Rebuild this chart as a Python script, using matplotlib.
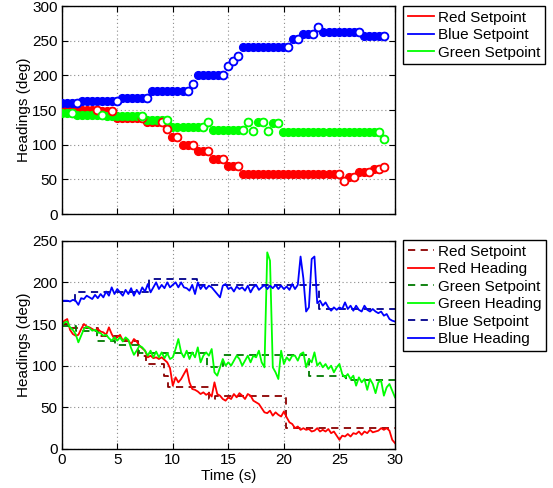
import matplotlib
matplotlib.use("Agg")
import matplotlib.pyplot as plt
import numpy as np
from matplotlib.lines import Line2D

plt.rcParams["font.family"] = ["Liberation Sans", "DejaVu Sans"]
plt.rcParams["font.size"] = 11

# ---- 上图：各颜色的设定值（每段的取值与采样点数） ----
sp_t = np.linspace(0, 29, 65)

red_levels = [150, 148, 139, 133, 122, 111, 99, 91, 79, 69, 58, 47, 54, 61, 65, 68]
red_counts = [8, 3, 6, 4, 1, 2, 3, 3, 3, 3, 20, 1, 2, 3, 2, 1]

blue_levels = [160, 163, 168, 177, 188, 200, 213, 221, 228, 241, 252, 260, 269, 262, 257]
blue_counts = [4, 8, 6, 8, 1, 6, 1, 1, 1, 10, 2, 3, 1, 8, 5]

green_levels = [145, 143, 141, 135, 126, 133, 121, 133, 120, 133, 119, 131, 118, 108]
green_counts = [3, 6, 8, 5, 7, 1, 7, 1, 1, 2, 1, 2, 20, 1]

# ---- 下图：航向与设定值 ----
head_t = np.linspace(0, 30, 121)

red_heading = [
    150, 154, 156, 143, 138, 136, 137, 144, 150, 147, 146, 144, 142, 144, 141, 140,
    137, 146, 138, 132, 134, 137, 130, 132, 130, 126, 132, 129, 124, 121, 118, 110,
    112, 109, 110, 108, 110, 107, 104, 97, 76, 86, 80, 84, 90, 96, 80, 72,
    71, 69, 66, 68, 65, 67, 63, 80, 66, 64, 60, 58, 62, 60, 66, 62,
    67, 64, 60, 66, 64, 58, 56, 54, 49, 44, 43, 46, 40, 44, 41, 39,
    45, 38, 32, 30, 25, 27, 23, 25, 23, 24, 21, 22, 25, 21, 23, 21,
    24, 19, 21, 16, 11, 16, 15, 18, 15, 19, 18, 21, 17, 21, 19, 23,
    20, 21, 22, 25, 23, 25, 22, 11, 7,
]

green_heading = [
    148, 152, 153, 146, 143, 138, 128, 136, 144, 147, 145, 142, 143, 140, 139, 136,
    137, 133, 130, 134, 130, 134, 129, 134, 131, 121, 113, 118, 124, 122, 118, 112,
    118, 110, 117, 110, 116, 109, 115, 108, 110, 120, 132, 116, 110, 118, 108, 116,
    110, 122, 104, 112, 116, 112, 120, 92, 88, 98, 108, 100, 104, 100, 106, 112,
    108, 100, 106, 112, 104, 112, 110, 118, 104, 98, 236, 226, 98, 92, 84, 118,
    102, 110, 106, 112, 112, 106, 114, 116, 98, 108, 104, 116, 100, 104, 98, 102,
    96, 100, 92, 98, 102, 90, 86, 90, 84, 88, 76, 86, 80, 84, 71, 84,
    78, 67, 80, 82, 64, 74, 78, 70, 62,
]

blue_heading = [
    178, 178, 178, 177, 179, 178, 173, 181, 180, 184, 182, 180, 185, 181, 186, 182,
    189, 184, 194, 186, 192, 188, 184, 191, 186, 193, 184, 191, 186, 194, 189, 198,
    188, 194, 200, 192, 197, 193, 200, 194, 197, 200, 194, 200, 194, 193, 190, 197,
    186, 200, 192, 197, 192, 196, 194, 190, 186, 182, 196, 198, 192, 194, 189, 195,
    192, 194, 190, 196, 188, 194, 197, 191, 194, 197, 192, 196, 193, 197, 192, 196,
    192, 195, 191, 198, 192, 197, 231, 205, 165, 170, 228, 231, 175, 178, 172, 176,
    170, 166, 170, 167, 170, 168, 176, 168, 172, 166, 172, 167, 165, 172, 167, 165,
    168, 165, 163, 165, 160, 162, 156, 154, 153,
]

red_sp_t = [0, 0.6, 3.3, 5.5, 6.9, 7.6, 9.2, 9.6, 13.3, 13.8, 20.2, 30]
red_sp_v = [150, 145, 136, 130, 112, 102, 88, 75, 60, 64, 25, 25]

green_sp_t = [0, 1.3, 3.2, 4.8, 7.0, 13.1, 14.5, 22.3, 25.6, 30]
green_sp_v = [148, 142, 130, 125, 115, 98, 113, 88, 83, 83]

blue_sp_t = [0, 1.2, 7.9, 12.2, 23.2, 30]
blue_sp_v = [178, 188, 204, 197, 168, 168]

W, H = 553, 488
fig = plt.figure(figsize=(W / 100, H / 100), dpi=100)
ax1 = fig.add_axes([61.7 / W, 1 - 214 / H, 333.3 / W, 208 / H])
ax2 = fig.add_axes([61.7 / W, 1 - 449 / H, 333.3 / W, 208.3 / H])


def style_axes(ax):
    ax.grid(True, color="#8c8c8c", linestyle=(0, (1, 2.5)), linewidth=0.8)
    ax.tick_params(direction="in", top=True, right=True, length=4, width=0.8, pad=3)
    for s in ax.spines.values():
        s.set_linewidth(1.0)
    ax.set_axisbelow(True)


# 上图：实心点为设定值，空心点为每段的最后一个点
for levels, counts, col in [
    (red_levels, red_counts, "red"),
    (blue_levels, blue_counts, "blue"),
    (green_levels, green_counts, "lime"),
]:
    vals = np.repeat(levels, counts)
    ax1.plot(sp_t, vals, "o", color=col, ms=5.6, mew=1.0, mfc=col, mec=col, zorder=3)
    ends = np.cumsum(counts) - 1
    ax1.plot(sp_t[ends], vals[ends], "o", ms=5.6, mew=1.3, mfc="white", mec=col, zorder=4)

ax1.set_xlim(0, 30)
ax1.set_ylim(0, 300)
ax1.set_xticks(np.arange(0, 31, 5))
ax1.set_xticklabels([])
ax1.set_yticks(np.arange(0, 301, 50))
ax1.set_ylabel("Headings (deg)", labelpad=1)
style_axes(ax1)

handles = [
    Line2D([], [], color="red", lw=1.3),
    Line2D([], [], color="blue", lw=1.3),
    Line2D([], [], color="lime", lw=1.3),
]
leg_kw = dict(loc="upper left", bbox_transform=fig.transFigure, borderaxespad=0,
              fancybox=False, edgecolor="black", framealpha=1,
              handlelength=1.75, handletextpad=0.25, borderpad=0.3,
              labelspacing=0.23)
leg1 = ax1.legend(handles, ["Red Setpoint", "Blue Setpoint", "Green Setpoint"],
                  bbox_to_anchor=(403 / W, 1 - 6 / H), **leg_kw)
leg1.get_frame().set_linewidth(1.0)

# 下图
dash = (0, (4, 3))
ax2.plot(red_sp_t, red_sp_v, color="#8b0000", ls=dash, lw=1.3, drawstyle="steps-post",
         label="Red Setpoint")
ax2.plot(head_t, red_heading, color="red", lw=1.3, label="Red Heading")
ax2.plot(green_sp_t, green_sp_v, color="#007a00", ls=dash, lw=1.3, drawstyle="steps-post",
         label="Green Setpoint")
ax2.plot(head_t, green_heading, color="lime", lw=1.3, label="Green Heading")
ax2.plot(blue_sp_t, blue_sp_v, color="#00008b", ls=dash, lw=1.3, drawstyle="steps-post",
         label="Blue Setpoint")
ax2.plot(head_t, blue_heading, color="blue", lw=1.3, label="Blue Heading")

ax2.set_xlim(0, 30)
ax2.set_ylim(0, 250)
ax2.set_xticks(np.arange(0, 31, 5))
ax2.set_yticks(np.arange(0, 251, 50))
ax2.set_xlabel("Time (s)", labelpad=1)
ax2.set_ylabel("Headings (deg)", labelpad=1)
style_axes(ax2)

leg2 = ax2.legend(bbox_to_anchor=(403 / W, 1 - 240 / H), **leg_kw)
leg2.get_frame().set_linewidth(1.0)

fig.savefig("out.png", dpi=100)
